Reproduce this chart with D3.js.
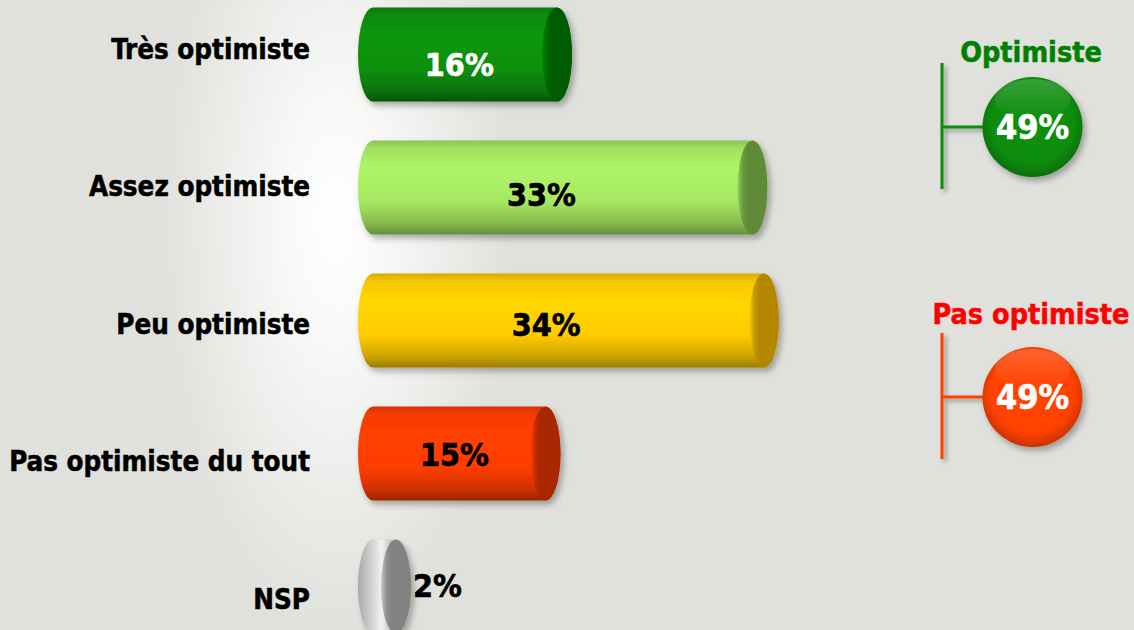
<!DOCTYPE html>
<html>
<head>
<meta charset="utf-8">
<script src="https://cdn.jsdelivr.net/npm/d3@7"></script>
<style>
html,body{margin:0;padding:0;background:#e0e0dc;}
svg{display:block;}
text{font-family:"DejaVu Sans Condensed","DejaVu Sans",sans-serif;font-weight:bold;font-stretch:condensed;}
</style>
</head>
<body>
<svg id="chart" width="1134" height="630"></svg>
<script>
// ---- data ----
const categories = ["Très optimiste", "Assez optimiste", "Peu optimiste", "Pas optimiste du tout", "NSP"];
const values = [16, 33, 34, 15, 2];
const bodyColors = ["#0a8f0a", "#a6e862", "#ffcc00", "#ff3d00", "#c4c4c4"];
const capColors = ["#005c00", "#5f8a38", "#b38800", "#a82600", "#828282"];
const valueTextColors = ["#ffffff", "#000000", "#000000", "#000000", "#000000"];
const groupLabels = ["Optimiste", "Pas optimiste"];
const groupValues = [49, 49];
const groupColors = ["#008000", "#ff0000"];
const groupFills = ["#0a8c0a", "#ff4200"];

const W = 1134, H = 630;
const svg = d3.select("#chart");
const defs = svg.append("defs");

// background
const bg = defs.append("radialGradient").attr("id", "bgGlow")
  .attr("gradientUnits", "userSpaceOnUse").attr("cx", 335).attr("cy", 220).attr("r", 420)
  .attr("gradientTransform", "translate(335,220) scale(0.42,1) translate(-335,-220)");
bg.append("stop").attr("offset", "0%").attr("stop-color", "#ffffff");
bg.append("stop").attr("offset", "30%").attr("stop-color", "#f8f8f7");
bg.append("stop").attr("offset", "100%").attr("stop-color", "#e0e0dc");
svg.append("rect").attr("width", W).attr("height", H).attr("fill", "#e0e0dc");
svg.append("rect").attr("width", W).attr("height", H).attr("fill", "url(#bgGlow)");

// shadow filter
const sh = defs.append("filter").attr("id", "shadow").attr("x", "-30%").attr("y", "-30%").attr("width", "160%").attr("height", "160%");
sh.append("feDropShadow").attr("dx", 3).attr("dy", 4).attr("stdDeviation", 3).attr("flood-color", "#000").attr("flood-opacity", 0.3);
const shl = defs.append("filter").attr("id", "lineShadow").attr("x", "-200%").attr("y", "-10%").attr("width", "500%").attr("height", "130%");
shl.append("feDropShadow").attr("dx", 3).attr("dy", 3).attr("stdDeviation", 2).attr("flood-color", "#000").attr("flood-opacity", 0.35);

// scales
const x = d3.scaleLinear().domain([0, 100]).range([373, 1523]);
const yBar = d3.scalePoint().domain(categories).range([54.5, 586.5]);
const yLabel = d3.scalePoint().domain(categories).range([49, 599]);
const yValue = d3.scalePoint().domain(categories).range([64.5, 585]);
const rx = 15, ry = 47;

// gradients for bodies
categories.forEach((c, i) => {
  const col = d3.color(bodyColors[i]);
  const g = defs.append("linearGradient").attr("id", "body" + i).attr("x1", 0).attr("y1", 0).attr("x2", 0).attr("y2", 1);
  g.append("stop").attr("offset", "0%").attr("stop-color", col.darker(0.5));
  g.append("stop").attr("offset", "8%").attr("stop-color", col.darker(0.1));
  g.append("stop").attr("offset", "30%").attr("stop-color", col.brighter(0.15));
  g.append("stop").attr("offset", "65%").attr("stop-color", col);
  g.append("stop").attr("offset", "88%").attr("stop-color", col.darker(0.6));
  g.append("stop").attr("offset", "100%").attr("stop-color", col.darker(1.4));
  const cg = defs.append("linearGradient").attr("id", "cap" + i).attr("x1", 0).attr("y1", 0).attr("x2", 1).attr("y2", 0);
  const cc = d3.color(capColors[i]);
  cg.append("stop").attr("offset", "0%").attr("stop-color", cc.brighter(1.2));
  cg.append("stop").attr("offset", "18%").attr("stop-color", cc.brighter(0.3));
  cg.append("stop").attr("offset", "35%").attr("stop-color", cc);
  cg.append("stop").attr("offset", "100%").attr("stop-color", cc);
});
// NSP body: horizontal shading
{
  const g = defs.select("#body4");
  g.selectAll("stop").remove();
  g.attr("x1", 0).attr("y1", 0).attr("x2", 1).attr("y2", 0);
  g.append("stop").attr("offset", "0%").attr("stop-color", "#a8a8a8");
  g.append("stop").attr("offset", "25%").attr("stop-color", "#d0d0d0");
  g.append("stop").attr("offset", "45%").attr("stop-color", "#f2f2f2");
  g.append("stop").attr("offset", "60%").attr("stop-color", "#c8c8c8");
  g.append("stop").attr("offset", "100%").attr("stop-color", "#a0a0a0");
}

// category labels
svg.append("g").selectAll("text").data(categories).join("text")
  .attr("x", 310).attr("y", d => yLabel(d)).attr("dy", "0.36em")
  .attr("text-anchor", "end").attr("font-size", 27.5).attr("fill", "#000")
  .attr("stroke", "#000").attr("stroke-width", 0.5)
  .text(d => d);

// bars
const bars = svg.append("g").selectAll("g").data(categories).join("g").attr("filter", "url(#shadow)");
bars.append("path")
  .attr("d", (d, i) => {
    const x0 = x(0), x1 = x(values[i]), cy = yBar(d);
    return `M${x0},${cy - ry} L${x1},${cy - ry} A${rx},${ry} 0 0 1 ${x1},${cy + ry} L${x0},${cy + ry} A${rx},${ry} 0 0 1 ${x0},${cy - ry} Z`;
  })
  .attr("fill", (d, i) => `url(#body${i})`);
bars.append("ellipse")
  .attr("cx", (d, i) => x(values[i])).attr("cy", d => yBar(d))
  .attr("rx", rx).attr("ry", ry)
  .attr("fill", (d, i) => `url(#cap${i})`);

// value labels
svg.append("g").selectAll("text").data(categories).join("text")
  .attr("x", (d, i) => values[i] < 5 ? x(values[i]) + rx + 2 : x(values[i] * 0.42) + 9)
  .attr("y", d => yValue(d)).attr("dy", "0.36em")
  .attr("text-anchor", (d, i) => values[i] < 5 ? "start" : "middle")
  .attr("font-size", 32)
  .attr("fill", (d, i) => valueTextColors[i])
  .attr("stroke", (d, i) => valueTextColors[i]).attr("stroke-width", 0.6)
  .text((d, i) => values[i] + "%");

// group summaries
const yGroupTitle = d3.scalePoint().domain(groupLabels).range([52, 314]);
const yGroupCircle = d3.scalePoint().domain(groupLabels).range([127, 397]);
groupLabels.forEach((gName, i) => {
  const col = d3.color(groupFills[i]);
  const rg = defs.append("radialGradient").attr("id", "circ" + i).attr("cx", "50%").attr("cy", "45%").attr("r", "55%");
  rg.append("stop").attr("offset", "0%").attr("stop-color", col.brighter(0.1));
  rg.append("stop").attr("offset", "75%").attr("stop-color", col);
  rg.append("stop").attr("offset", "100%").attr("stop-color", col.darker(0.7));
  const hg = defs.append("linearGradient").attr("id", "hl" + i).attr("x1", 0).attr("y1", 0).attr("x2", 0).attr("y2", 1);
  hg.append("stop").attr("offset", "0%").attr("stop-color", "#fff").attr("stop-opacity", 0.18);
  hg.append("stop").attr("offset", "100%").attr("stop-color", "#fff").attr("stop-opacity", 0);

  const cy = yGroupCircle(gName);
  const g = svg.append("g");
  g.append("text").attr("x", 1031).attr("y", yGroupTitle(gName)).attr("dy", "0.36em")
    .attr("text-anchor", "middle").attr("font-size", 28.5).attr("fill", groupColors[i])
    .attr("stroke", groupColors[i]).attr("stroke-width", 0.5).text(gName);
  const lines = g.append("g").attr("filter", "url(#lineShadow)").attr("stroke", groupFills[i]).attr("stroke-width", 3);
  lines.append("line").attr("x1", 942).attr("x2", 942).attr("y1", cy - 64).attr("y2", cy + 62);
  lines.append("line").attr("x1", 942).attr("x2", 990).attr("y1", cy).attr("y2", cy);
  g.append("circle").attr("cx", 1032.5).attr("cy", cy).attr("r", 50)
    .attr("fill", `url(#circ${i})`).attr("filter", "url(#shadow)");
  g.append("ellipse").attr("cx", 1032.5).attr("cy", cy - 28).attr("rx", 38).attr("ry", 20)
    .attr("fill", `url(#hl${i})`);
  g.append("text").attr("x", 1032.5).attr("y", cy).attr("dy", "0.36em")
    .attr("text-anchor", "middle").attr("font-size", 34).attr("fill", "#fff")
    .attr("stroke", "#fff").attr("stroke-width", 0.6).text(groupValues[i] + "%");
});
</script>
</body>
</html>
